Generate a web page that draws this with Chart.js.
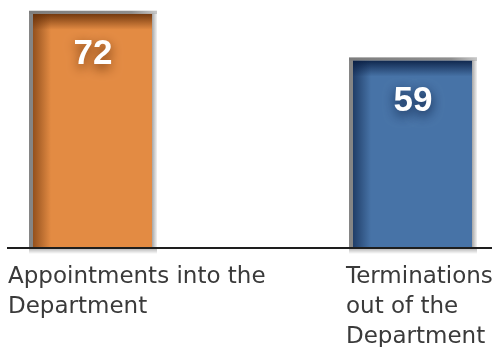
<!DOCTYPE html>
<html><head><meta charset="utf-8">
<script src="https://cdn.jsdelivr.net/npm/chart.js@4/dist/chart.umd.min.js"></script>
<style>html,body{margin:0;padding:0;background:#fff;overflow:hidden}</style>
</head><body>
<canvas id="c" width="492" height="347"></canvas>
<script>
const categories = [["Appointments into the", "Department"], ["Terminations", "out of the", "Department"]];
const values = [72, 59];
const barColors = ['#E38B43', '#4773A7'];
const shadeRGB = ['95,42,5', '6,26,62'];

const decor = {
  id: 'decor',
  afterDatasetsDraw(chart) {
    const ctx = chart.ctx;
    const area = chart.chartArea;
    const meta = chart.getDatasetMeta(0);
    meta.data.forEach((bar, i) => {
      const p = bar.getProps(['x', 'y', 'base', 'width'], true);
      const L = p.x - p.width / 2, R = p.x + p.width / 2;
      const fl = 4, ft = 3, fr = 5;
      const iL = L + fl, iR = R - fr, iT = p.y + ft, iB = p.base;
      const sh = shadeRGB[i];
      ctx.save();
      // top inner shadow
      let g = ctx.createLinearGradient(0, iT, 0, iT + 16);
      g.addColorStop(0, 'rgba(' + sh + ',0.85)');
      g.addColorStop(1, 'rgba(' + sh + ',0)');
      ctx.fillStyle = g;
      ctx.fillRect(iL, iT, iR - iL, 16);
      // left inner shadow
      g = ctx.createLinearGradient(iL, 0, iL + 18, 0);
      g.addColorStop(0, 'rgba(' + sh + ',0.6)');
      g.addColorStop(1, 'rgba(' + sh + ',0)');
      ctx.fillStyle = g;
      ctx.fillRect(iL, iT, 18, iB - iT);
      // top frame gradient
      g = ctx.createLinearGradient(L, 0, R, 0);
      g.addColorStop(0, '#7d7d7d');
      g.addColorStop(0.8, '#8e8e8e');
      g.addColorStop(1, '#c8c8c8');
      ctx.fillStyle = g;
      ctx.fillRect(L, p.y, p.width, ft);
      // right frame gradient
      g = ctx.createLinearGradient(iR, 0, R, 0);
      g.addColorStop(0, '#a5a5a5');
      g.addColorStop(1, '#f2f2f2');
      ctx.fillStyle = g;
      ctx.fillRect(iR, p.y + ft, fr, p.base - p.y - ft);
      // shadow below baseline
      g = ctx.createLinearGradient(0, p.base, 0, p.base + 6);
      g.addColorStop(0, 'rgba(0,0,0,0.3)');
      g.addColorStop(1, 'rgba(0,0,0,0)');
      ctx.fillStyle = g;
      ctx.fillRect(L, p.base, p.width, 6);
      // value label
      ctx.font = 'bold 35px "Liberation Sans", Arial, sans-serif';
      ctx.textAlign = 'center';
      ctx.textBaseline = 'middle';
      ctx.shadowColor = 'rgba(' + sh + ',0.9)';
      ctx.shadowBlur = 12;
      ctx.shadowOffsetY = 4;
      ctx.fillStyle = '#ffffff';
      ctx.fillText(String(values[i]), p.x, p.y + 44);
      ctx.restore();
    });
    // baseline
    ctx.save();
    ctx.fillStyle = '#1e1e1e';
    ctx.fillRect(7, area.bottom - 1, 485, 2);
    // category labels
    const xs = chart.scales.x;
    const offs = [-85, -67];
    ctx.font = '23px "DejaVu Sans", sans-serif';
    ctx.fillStyle = '#3a3a3a';
    ctx.textAlign = 'left';
    ctx.textBaseline = 'alphabetic';
    categories.forEach((lines, i) => {
      const x0 = xs.getPixelForValue(i) + offs[i];
      lines.forEach((t, j) => ctx.fillText(t, x0, area.bottom + 35 + j * 30));
    });
    ctx.restore();
  }
};

new Chart(document.getElementById('c'), {
  type: 'bar',
  data: {
    labels: categories,
    datasets: [{
      data: values,
      backgroundColor: barColors,
      borderColor: '#858585',
      borderWidth: {top: 3, left: 4, right: 5, bottom: 0},
      borderSkipped: false,
      barPercentage: 0.4,
      categoryPercentage: 1,
      base: 6,
      clip: false
    }]
  },
  options: {
    responsive: false,
    animation: false,
    devicePixelRatio: 1,
    layout: {padding: {left: 93, right: 79, top: 0, bottom: 99}},
    scales: {
      x: {display: false, offset: false},
      y: {display: false, min: 6, max: 75}
    },
    plugins: {legend: {display: false}, tooltip: {enabled: false}, title: {display: false}}
  },
  plugins: [decor]
});
</script>
</body></html>
